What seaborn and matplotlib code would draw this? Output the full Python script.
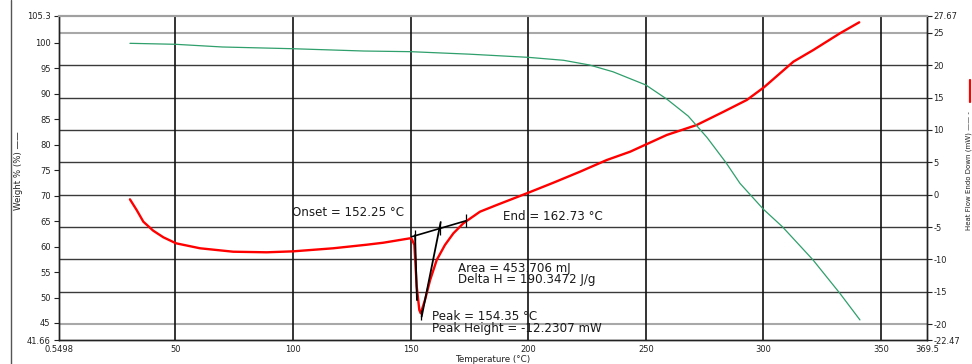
import matplotlib
matplotlib.use("Agg")
import matplotlib.pyplot as plt
from matplotlib.lines import Line2D
import seaborn as sns

# ---------------- data ----------------
tga_temp = [30.7, 50, 70, 100, 130, 150, 175, 200, 215, 226, 236, 250, 259,
            268, 276, 284, 290, 300, 308, 321, 332.5, 341]
tga_weight = [99.88, 99.69, 99.16, 98.82, 98.37, 98.24, 97.75, 97.13, 96.55,
              95.63, 94.3, 91.7, 88.9, 85.6, 81.4, 76.5, 72.4, 67.3, 63.9,
              57.4, 50.8, 45.6]

dsc_temp = [30.7, 33.6, 36.4, 40.6, 44.9, 50.3, 60.5, 74.6, 88.8, 100.2, 117.1,
            131.3, 138.4, 149.7, 150.5, 151.6, 152.6, 153.7, 154.3, 156.1,
            158.3, 161.1, 164.6, 168.2, 172.4, 179.5, 186.6, 200.1, 210.7,
            222, 233.4, 243.3, 258.9, 271.6, 282.9, 292.9, 300.2, 312.7,
            321.2, 332.5, 340.7]
dsc_heat = [-0.72, -2.4, -4.18, -5.57, -6.59, -7.52, -8.29, -8.82, -8.91,
            -8.76, -8.29, -7.74, -7.43, -6.75, -6.85, -7.78, -14.2, -17.83,
            -18.34, -16.3, -13.2, -10.1, -7.78, -5.97, -4.43, -2.63, -1.6,
            0.31, 1.85, 3.55, 5.36, 6.64, 9.23, 10.77, 12.8, 14.64, 16.6,
            20.56, 22.37, 24.95, 26.65]

# analysis construction lines (DSC scale)
baseline_temp = [150.5, 173.7]
baseline_heat = [-6.5, -4.02]
lead_temp = [151.9, 152.7]
lead_heat = [-6.24, -16.3]
trail_temp = [162.8, 154.7]
trail_heat = [-4.23, -18.87]
mark_temp = [151.9, 162.6, 173.7, 154.35]
mark_top = [-5.49, -4.33, -3.0, -17.83]
mark_bottom = [-7.0, -6.24, -5.05, -19.4]

x_ticks = [0.5498, 50, 100, 150, 200, 250, 300, 350, 369.5]
x_labels = ["0.5498", "50", "100", "150", "200", "250", "300", "350", "369.5"]
x_grid = [50, 100, 150, 200, 250, 300, 350]
w_ticks = [41.66, 45, 50, 55, 60, 65, 70, 75, 80, 85, 90, 95, 100, 105.3]
w_labels = ["41.66", "45", "50", "55", "60", "65", "70", "75", "80", "85",
            "90", "95", "100", "105.3"]
h_ticks = [-22.47, -20, -15, -10, -5, 0, 5, 10, 15, 20, 25, 27.67]
h_labels = ["-22.47", "-20", "-15", "-10", "-5", "0", "5", "10", "15", "20",
            "25", "27.67"]
h_grid = [-20, -15, -10, -5, 0, 5, 10, 15, 20, 25]
h_grid_light = [-20, 25]

annotations = [
    ("Onset = 152.25 °C", 99.5, -2.79),
    ("End = 162.73 °C", 189.1, -3.3),
    ("Area = 453.706 mJ", 170.3, -11.38),
    ("Delta H = 190.3472 J/g", 170.3, -13.19),
    ("Peak = 154.35 °C", 158.95, -18.87),
    ("Peak Height = -12.2307 mW", 158.95, -20.66),
]

# ---------------- style ----------------
sns.set_style("white")
plt.rcParams["font.family"] = ["DejaVu Sans"]

W, H = 972, 364
fig = plt.figure(figsize=(W / 100, H / 100), dpi=100)
ax = fig.add_axes([59 / W, 24 / H, 868 / W, 324.3 / H])
ax2 = ax.twinx()
# heat-flow axes behind, weight axes on top (transparent)
ax.set_zorder(ax2.get_zorder() + 1)
ax.patch.set_visible(False)
ax2.patch.set_facecolor("white")

GREEN = "#2f9f6c"
RED = "#ff0000"

# horizontal grid (on heat-flow scale)
for v in h_grid:
    if v in h_grid_light:
        ax2.axhline(v, color="#a8a8a8", lw=1.5, zorder=0)
    else:
        ax2.axhline(v, color="#3a3a3a", lw=1.0, zorder=0)
# vertical grid
for v in x_grid:
    ax2.axvline(v, color="#111111", lw=1.2, zorder=0)

# curves
sns.lineplot(x=dsc_temp, y=dsc_heat, ax=ax2, color=RED, lw=1.7, zorder=3)
sns.lineplot(x=tga_temp, y=tga_weight, ax=ax, color=GREEN, lw=0.9, zorder=3)

# construction lines
ax2.plot(baseline_temp, baseline_heat, color="black", lw=1.2, zorder=4)
ax2.plot(lead_temp, lead_heat, color="black", lw=1.3, zorder=4)
ax2.plot(trail_temp, trail_heat, color="black", lw=1.3, zorder=4)
ax2.vlines(mark_temp, mark_bottom, mark_top, color="black", lw=0.9, zorder=4)

for txt, tx, ty in annotations:
    ax2.text(tx, ty, txt, fontsize=8.6, color="#1a1a1a", ha="left",
             va="center", zorder=5)

# limits / ticks
ax.set_xlim(0.5498, 369.5)
ax.set_ylim(41.66, 105.3)
ax2.set_ylim(-22.47, 27.67)

ax.set_xticks(x_ticks)
ax.set_xticklabels(x_labels)
ax.set_yticks(w_ticks)
ax.set_yticklabels(w_labels)
ax2.set_yticks(h_ticks)
ax2.set_yticklabels(h_labels)

ax.tick_params(axis="x", length=0, pad=3.5, labelsize=6, colors="#222222")
ax.tick_params(axis="y", left=True, length=3.6, width=0.8, pad=2.5,
               labelsize=6, colors="#222222")
ax2.tick_params(axis="y", right=True, length=3.4, width=0.8, pad=1.2,
                labelsize=6, colors="#222222")

ax.set_xlabel("Temperature (°C)", fontsize=6.3, labelpad=0.5, color="#222222")
ax.set_ylabel("")
ax2.set_ylabel("")

for a in (ax, ax2):
    for s in ("left", "right", "bottom"):
        a.spines[s].set_color("#222222")
        a.spines[s].set_linewidth(1.0)
    a.spines["top"].set_color("#a0a0a0")
    a.spines["top"].set_linewidth(1.5)

# axis titles drawn as figure text
fig.text(18.5 / W, 1 - 171 / H, "Weight % (%) ——", rotation=90, ha="center",
         va="center", fontsize=6.2, color="#222222")
fig.text(969 / W, 1 - 230 / H, "Heat Flow Endo Down (mW) —— -", rotation=90,
         ha="center", va="bottom", fontsize=5.0, color="#222222")
fig.add_artist(Line2D([970 / W, 970 / W], [1 - 102 / H, 1 - 80 / H],
                      color=RED, lw=1.6))
# left frame line
fig.add_artist(Line2D([11 / W, 11 / W], [0, 1], color="#555555", lw=1.0))

fig.savefig("out.png", dpi=100)
